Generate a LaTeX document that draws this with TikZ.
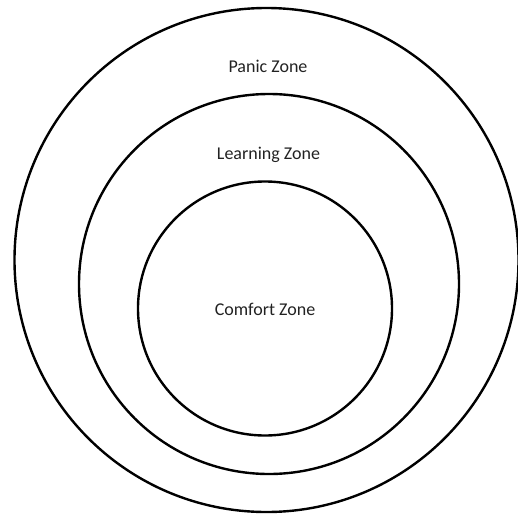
\documentclass[tikz,border=0pt]{standalone}
\usepackage{fontspec}
\setmainfont{Carlito}
\usepackage{tikz}
\definecolor{texteZone}{RGB}{34,34,34}

\begin{document}
\begin{tikzpicture}[x=1pt,y=-1pt,font=\fontsize{18}{21}\selectfont,
  zone/.style={draw=black,line width=2.4pt},
  etiquette/.style={text=texteZone,inner sep=0pt}]

  \useasboundingbox (0,0) rectangle (518,516);

  % centres des trois cercles
  \coordinate (cPanique)  at (266.5,260);
  \coordinate (cApprent)  at (269,284);
  \coordinate (cConfort)  at (265,308.5);

  \draw[zone] (cPanique) circle[radius=252];
  \draw[zone] (cApprent) circle[radius=190];
  \draw[zone] (cConfort) circle[radius=127];

  \node[etiquette] (panique)  at (268,66)  {Panic Zone};
  \node[etiquette] (apprent)  at (268.5,155) {Learning Zone};
  \node[etiquette] (confort)  at (265,309) {Comfort Zone};
\end{tikzpicture}
\end{document}
